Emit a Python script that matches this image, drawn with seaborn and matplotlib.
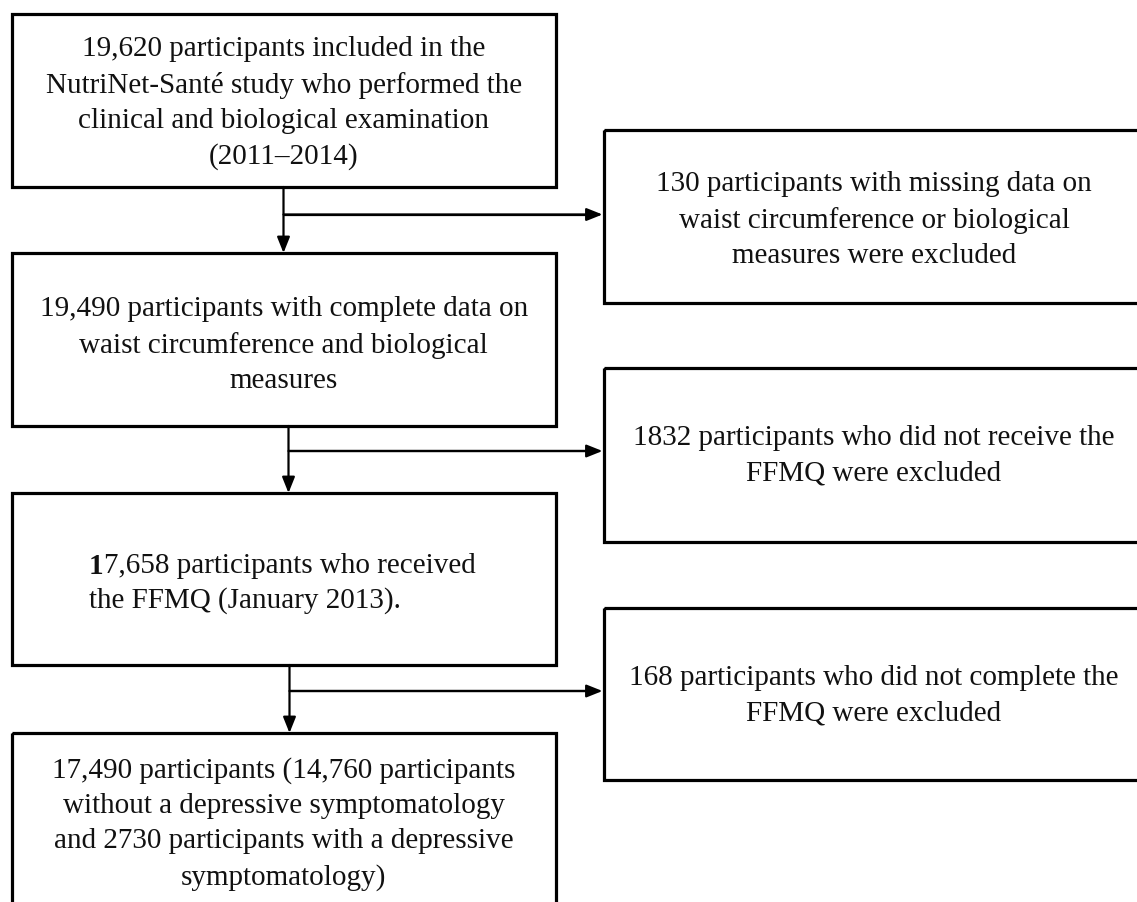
import matplotlib
matplotlib.use('Agg')
import matplotlib.pyplot as plt
from matplotlib.patches import Rectangle
import seaborn as sns

# texts of the flow chart, main column then the exclusion column
main_text = [
    '19,620 participants included in the\nNutriNet-Santé study who performed the\nclinical and biological examination\n(2011–2014)',
    '19,490 participants with complete data on\nwaist circumference and biological\nmeasures',
    None,  # box 3 is written apart (bold first digit)
    '17,490 participants (14,760 participants\nwithout a depressive symptomatology\nand 2730 participants with a depressive\nsymptomatology)',
]
box3_bold = '1'
box3_rest = '7,658 participants who received'
box3_line2 = 'the FFMQ (January 2013).'
excl_text = [
    '130 participants with missing data on\nwaist circumference or biological\nmeasures were excluded',
    '1832 participants who did not receive the\nFFMQ were excluded',
    '168 participants who did not complete the\nFFMQ were excluded',
]

# layout in pixels (y from top)
left_x0, left_x1 = 11.5, 556
main_top = [14, 253, 493, 733]
main_bot = [187, 426, 665, 960]
main_text_y = [103, 345, None, 824]
right_x0, right_x1 = 603.5, 1200
excl_top = [130, 368, 608]
excl_bot = [303, 542, 780]
excl_text_y = [220, 456, 696]
stem_x = [283.5, 288.5, 289.5]
branch_y = [214.5, 451, 691]

sns.set_theme(style='white')
plt.rcParams['font.family'] = ['Liberation Serif', 'DejaVu Serif']

fig = plt.figure(figsize=(11.37, 9.02), dpi=100)
ax = fig.add_axes([0, 0, 1, 1])
ax.set_xlim(0, 1137)
ax.set_ylim(902, 0)
ax.axis('off')

fs = 21
ls = 1.46
tc = '#111111'

def box(x0, x1, y0, y1):
    ax.add_patch(Rectangle((x0, y0), x1 - x0, y1 - y0, fill=False,
                           edgecolor='black', lw=2.3, joinstyle='miter'))

def arrow(x0, y0, x1, y1):
    ax.annotate('', xy=(x1, y1), xytext=(x0, y0),
                arrowprops=dict(arrowstyle='-|>,head_length=0.8,head_width=0.32',
                                color='black', lw=1.6, shrinkA=0, shrinkB=0))

for i in range(4):
    box(left_x0, left_x1, main_top[i], main_bot[i])
    if main_text[i] is not None:
        ax.text((left_x0 + left_x1) / 2, main_text_y[i], main_text[i],
                ha='center', va='center', fontsize=fs, linespacing=ls, color=tc)

# box 3 with bold leading digit
t1 = ax.text(89, 566, box3_bold, fontsize=fs, weight='bold', va='center',
             ha='left', color=tc)
ax.annotate(box3_rest, xy=(1, 0.5), xycoords=t1, va='center', ha='left',
            fontsize=fs, color=tc)
ax.text(89, 601, box3_line2, fontsize=fs, va='center', ha='left', color=tc)

for i in range(3):
    box(right_x0, right_x1, excl_top[i], excl_bot[i])
    ax.text(874, excl_text_y[i], excl_text[i], ha='center', va='center',
            fontsize=fs, linespacing=ls, color=tc)
    # arrows
    arrow(stem_x[i], main_bot[i], stem_x[i], main_top[i + 1])
    ax.plot([stem_x[i], right_x0 - 10], [branch_y[i], branch_y[i]],
            color='black', lw=1.6, solid_capstyle='butt')
    arrow(stem_x[i], branch_y[i], right_x0 - 1, branch_y[i])

fig.savefig('out.png', dpi=100, facecolor='white')
